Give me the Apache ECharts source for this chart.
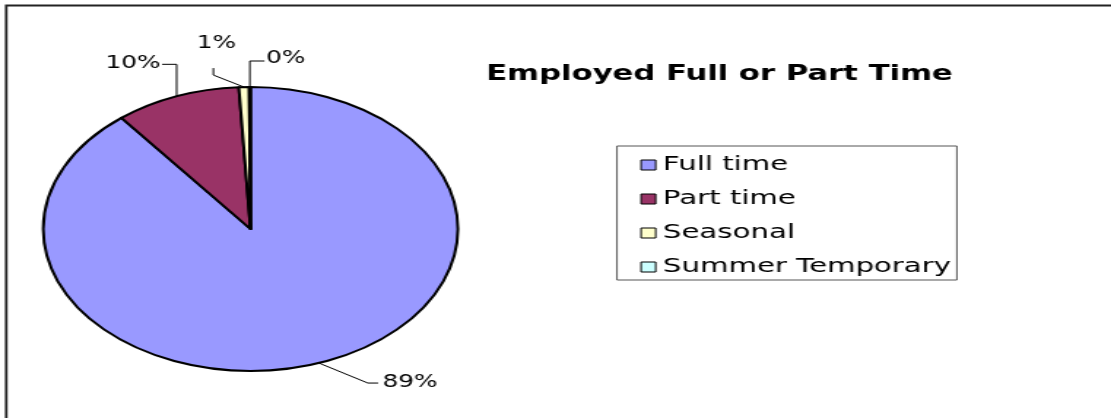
<!DOCTYPE html>
<html>
<head>
<meta charset="utf-8">
<title>Employed Full or Part Time</title>
<script src="https://cdn.jsdelivr.net/npm/echarts@6/dist/echarts.min.js"></script>
<style>
  html, body { margin: 0; padding: 0; background: #fff; overflow: hidden; }
  #wrap { width: 1111px; height: 418px; overflow: hidden; }
  /* the original chart was stretched sideways, so draw it narrow and stretch it */
  #chart { width: 761px; height: 418px; transform: scaleX(1.46); transform-origin: 0 0; }
</style>
</head>
<body>
<div id="wrap"><div id="chart"></div></div>
<script>
// data
const categories = ['Full time', 'Part time', 'Seasonal', 'Summer Temporary'];
const shares = [89.3, 9.8, 0.8, 0.1];
const sliceColors = ['#9999FF', '#993366', '#FFFFCC', '#CCFFFF'];

// leader lines, relative to the slice edge point (unstretched px)
const leaderBend = [[33.5, 20], [0, -32], [-21, -12], [0, -26]];
const leaderEnd = [[40.5, 20], [-10, -32], [-21, -19], [10, -26]];
const labelSpot = [[3, 0, 'left'], [-1, -1, 'right'], [2, -24, 'center'], [1, -2, 'left']];

const pieCenter = [171.6, 229];
const pieRadius = 142;

// fallback if echarts does not hand us the line points
const edgePoint = (i) => {
  const total = shares.reduce((a, b) => a + b, 0);
  let before = 0;
  for (let k = 0; k < i; k++) before += shares[k];
  const mid = (before + shares[i] / 2) / total * Math.PI * 2;
  return [pieCenter[0] + pieRadius * Math.sin(mid), pieCenter[1] - pieRadius * Math.cos(mid)];
};

const chart = echarts.init(document.getElementById('chart'));

const option = {
  animation: false,
  backgroundColor: '#fff',
  title: {
    text: 'Employed Full or Part Time',
    left: 333,
    top: 64,
    padding: 0,
    textStyle: { fontFamily: 'DejaVu Sans', fontSize: 21, fontWeight: 'bold', color: '#000' }
  },
  graphic: [
    {
      type: 'rect',
      silent: true,
      shape: { x: 4.3, y: 5.5, width: 900, height: 600 },
      style: { fill: 'none', stroke: '#222', lineWidth: 1.8 }
    }
  ],
  legend: {
    orient: 'vertical',
    left: 422.6,
    top: 146,
    padding: [9, 4, 3, 16],
    itemWidth: 10,
    itemHeight: 10,
    itemGap: 14,
    icon: 'rect',
    borderColor: '#555',
    borderWidth: 1,
    selectedMode: false,
    itemStyle: { borderColor: '#000', borderWidth: 1 },
    textStyle: { fontFamily: 'DejaVu Sans', fontSize: 20, lineHeight: 20, color: '#000' },
    data: categories
  },
  series: [
    {
      type: 'pie',
      center: pieCenter,
      radius: pieRadius,
      startAngle: 90,
      clockwise: true,
      avoidLabelOverlap: false,
      silent: true,
      emphasis: { disabled: true },
      itemStyle: { borderColor: '#000', borderWidth: 2 },
      label: {
        show: true,
        position: 'outside',
        formatter: (p) => Math.round(p.percent) + '%',
        fontFamily: 'DejaVu Sans',
        fontSize: 17,
        color: '#000'
      },
      labelLine: { show: true, length: 20, length2: 10, lineStyle: { color: '#000', width: 1 } },
      labelLayout: (params) => {
        const i = params.dataIndex;
        const p0 = (params.labelLinePoints && params.labelLinePoints[0]) || edgePoint(i);
        const bend = [p0[0] + leaderBend[i][0], p0[1] + leaderBend[i][1]];
        const end = [p0[0] + leaderEnd[i][0], p0[1] + leaderEnd[i][1]];
        const t = labelSpot[i];
        return {
          x: end[0] + t[0],
          y: end[1] + t[1],
          align: t[2],
          verticalAlign: 'middle',
          labelLinePoints: [p0, bend, end]
        };
      },
      data: categories.map((name, i) => ({
        name: name,
        value: shares[i],
        itemStyle: { color: sliceColors[i] }
      }))
    }
  ]
};

chart.setOption(option);
</script>
</body>
</html>
